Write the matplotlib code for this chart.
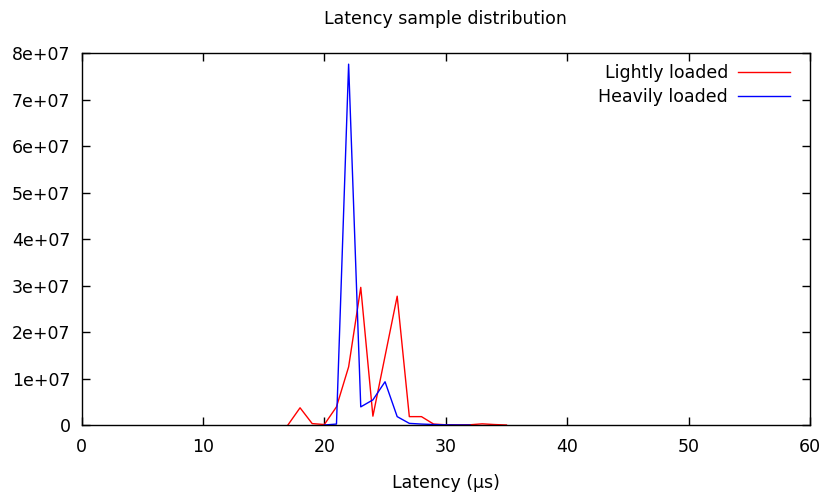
import matplotlib
matplotlib.use("Agg")
import matplotlib.pyplot as plt
from matplotlib.ticker import FuncFormatter, MultipleLocator

light_latency = list(range(17, 36))
lightly = [0.0, 3.7e6, 3.0e5, 1.0e5, 3.9e6, 1.25e7, 2.96e7, 1.9e6, 1.48e7, 2.77e7,
           1.8e6, 1.8e6, 2.0e5, 5.0e4, 3.0e4, 5.0e4, 2.5e5, 1.0e5, 0.0]
heavy_latency = list(range(20, 33))
heavily = [0.0, 2.0e5, 7.76e7, 3.9e6, 5.4e6, 9.3e6, 1.8e6, 3.5e5, 2.0e5, 1.0e5,
           3.0e4, 1.0e4, 0.0]

FS = 12.5
plt.rcParams['font.family'] = ['DejaVu Sans']
fig = plt.figure(figsize=(8.25, 4.94), dpi=100)
ax = fig.add_axes([81.5/825, 1-425/494, (810-81.5)/825, (425-53)/494])

ax.plot(light_latency, lightly, color='#ff0000', lw=1.0, label='Lightly loaded')
ax.plot(heavy_latency, heavily, color='#0000ff', lw=1.0, label='Heavily loaded')

ax.set_xlim(0, 60)
ax.set_ylim(0, 8e7)
ax.xaxis.set_major_locator(MultipleLocator(10))
ax.yaxis.set_major_locator(MultipleLocator(1e7))
ax.yaxis.set_major_formatter(FuncFormatter(lambda v, p: "0" if v == 0 else f"{v:.0e}"))
ax.tick_params(direction='in', length=6, width=1, top=True, right=True,
               labelsize=FS, colors='black')
ax.tick_params(axis='x', pad=9)
ax.tick_params(axis='y', pad=8)
for s in ax.spines.values():
    s.set_linewidth(1.0)

ax.set_xlabel('Latency (µs)', fontsize=FS, labelpad=13.5)
fig.text(0.5 * (81.5 + 810) / 825, 1 - 18.5/494, 'Latency sample distribution',
         ha='center', va='center', fontsize=FS)

leg = ax.legend(loc='upper right', frameon=False, markerfirst=False,
                fontsize=FS, handlelength=3.0, handletextpad=0.57,
                labelspacing=0.37, borderpad=0.4, borderaxespad=0,
                bbox_to_anchor=(797/825, 1-57/494), bbox_transform=fig.transFigure)

fig.savefig('out.png', dpi=100)
